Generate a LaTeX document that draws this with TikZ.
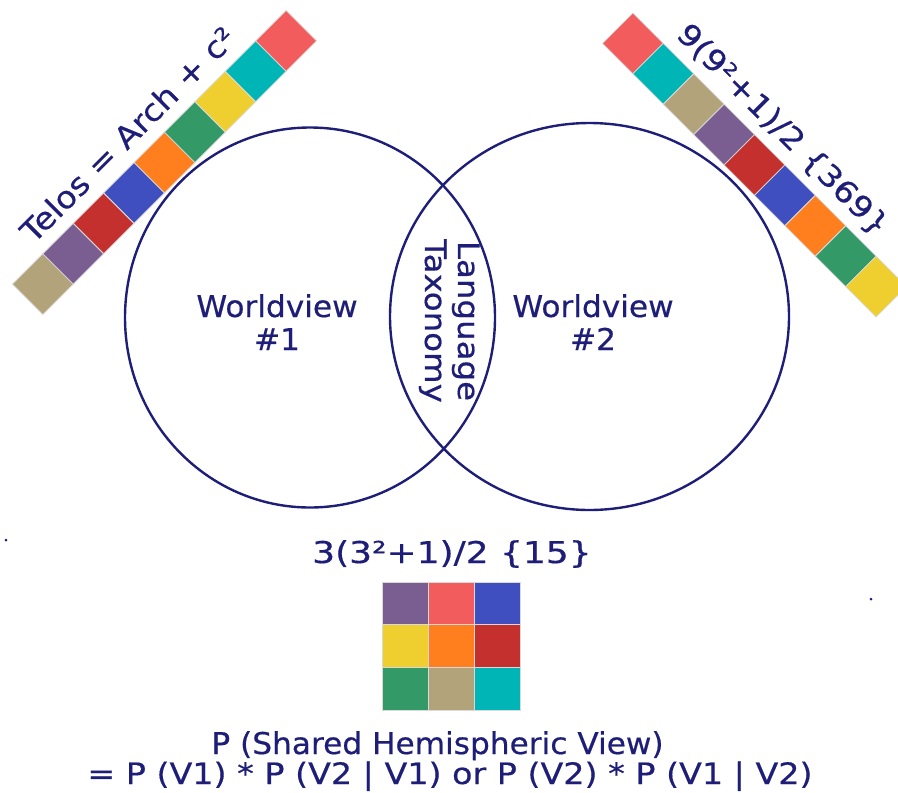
\documentclass[tikz,border=0pt]{standalone}
\usepackage{fontspec}
\setmainfont{DejaVu Sans}
\newfontfamily\fA{DejaVu Sans}[FakeStretch=1.04, FakeBold=0.5]
\newfontfamily\fB{DejaVu Sans}[FakeStretch=1.10, FakeBold=0.5]
\newfontfamily\fC{DejaVu Sans}[FakeStretch=1.13, FakeBold=0.5]
\newfontfamily\fD{DejaVu Sans}[FakeStretch=1.20, FakeBold=0.5]
\definecolor{navy}{HTML}{1E1E78}
\definecolor{ctan}{HTML}{B2A37A}
\definecolor{cpurple}{HTML}{7B5E91}
\definecolor{cred}{HTML}{C3302E}
\definecolor{cblue}{HTML}{3F4FBF}
\definecolor{corange}{HTML}{FF7F1F}
\definecolor{cgreen}{HTML}{339966}
\definecolor{cyellow}{HTML}{EFCF2F}
\definecolor{cteal}{HTML}{00B5B5}
\definecolor{ccoral}{HTML}{F25C5C}
\newcommand{\fsz}[1]{\fontsize{#1}{#1}\selectfont}
\tikzset{
  txt/.style={text=navy, inner sep=0pt, font=\fA\fsz{30}},
  ring/.style={draw=navy, line width=2.4pt},
  cell/.style={draw=gray!30, line width=0.8pt},
  dotmark/.style={fill=navy, circle, inner sep=0pt, minimum size=3pt}
}
\begin{document}
\begin{tikzpicture}[x=1pt,y=-1pt]
\useasboundingbox (0,0) rectangle (898,793);
\clip (0,0) rectangle (898,793);
% circles
\draw[ring] (310,317.5) ellipse [x radius=185, y radius=190];
\draw[ring] (589.5,316.5) ellipse [x radius=199.5, y radius=193.5];
% left bar
\begin{scope}[shift={(164.5,162.5)}, rotate=45, transform shape]
  \foreach \c [count=\i from 0] in {ctan,cpurple,cred,cblue,corange,cgreen,cyellow,cteal,ccoral}{
    \fill[\c] (-193.5+43*\i,-21.5) rectangle ++(43,43);
    \draw[cell] (-193.5+43*\i,-21.5) rectangle ++(43,43);
  }
  \node[txt, font=\fB\fsz{30.5}] (telos) at (-6,-46) {Telos = Arch + c²};
\end{scope}
% right bar
\begin{scope}[shift={(754.5,165)}, rotate=-45, transform shape]
  \foreach \c [count=\i from 0] in {ccoral,cteal,ctan,cpurple,cred,cblue,corange,cgreen,cyellow}{
    \fill[\c] (-193.5+43*\i,-21.5) rectangle ++(43,43);
    \draw[cell] (-193.5+43*\i,-21.5) rectangle ++(43,43);
  }
  \node[txt, font=\fC\fsz{30}] (nine) at (-5,-44) {9(9²+1)/2 \{369\}};
\end{scope}
% circle labels
\node[txt, anchor=base] (w1) at (277,317) {Worldview};
\node[txt, anchor=base] (n1) at (277,350) {\#1};
\node[txt, anchor=base] (w2) at (593,317) {Worldview};
\node[txt, anchor=base] (n2) at (593,350) {\#2};
\node[txt, anchor=base, rotate=-90, font=\fB\fsz{29.5}] (lang) at (458,321) {Language};
\node[txt, anchor=base, rotate=-90, font=\fB\fsz{29.5}] (tax) at (425,321) {Taxonomy};
% formula
\node[txt, anchor=base, font=\fD\fsz{30}] (three) at (452,563) {3(3²+1)/2 \{15\}};
% grid
\foreach \c [count=\i from 0] in {cpurple,ccoral,cblue,cyellow,corange,cred,cgreen,ctan,cteal}{
  \pgfmathtruncatemacro{\col}{mod(\i,3)}
  \pgfmathtruncatemacro{\row}{int(\i/3)}
  \fill[\c] (382+46*\col,582+42.7*\row) rectangle ++(46,42.7);
  \draw[cell] (382+46*\col,582+42.7*\row) rectangle ++(46,42.7);
}
% bottom text
\node[txt, anchor=base, font=\fA\fsz{30}] (p1) at (437.5,754) {P (Shared Hemispheric View)};
\node[txt, anchor=base, font=\fC\fsz{29.5}] (p2) at (450,784) {= P (V1) * P (V2 | V1) or P (V2) * P (V1 | V2)};
% dots
\node[dotmark] (d1) at (6,540) {};
\node[dotmark] (d2) at (871,599) {};
\end{tikzpicture}
\end{document}
